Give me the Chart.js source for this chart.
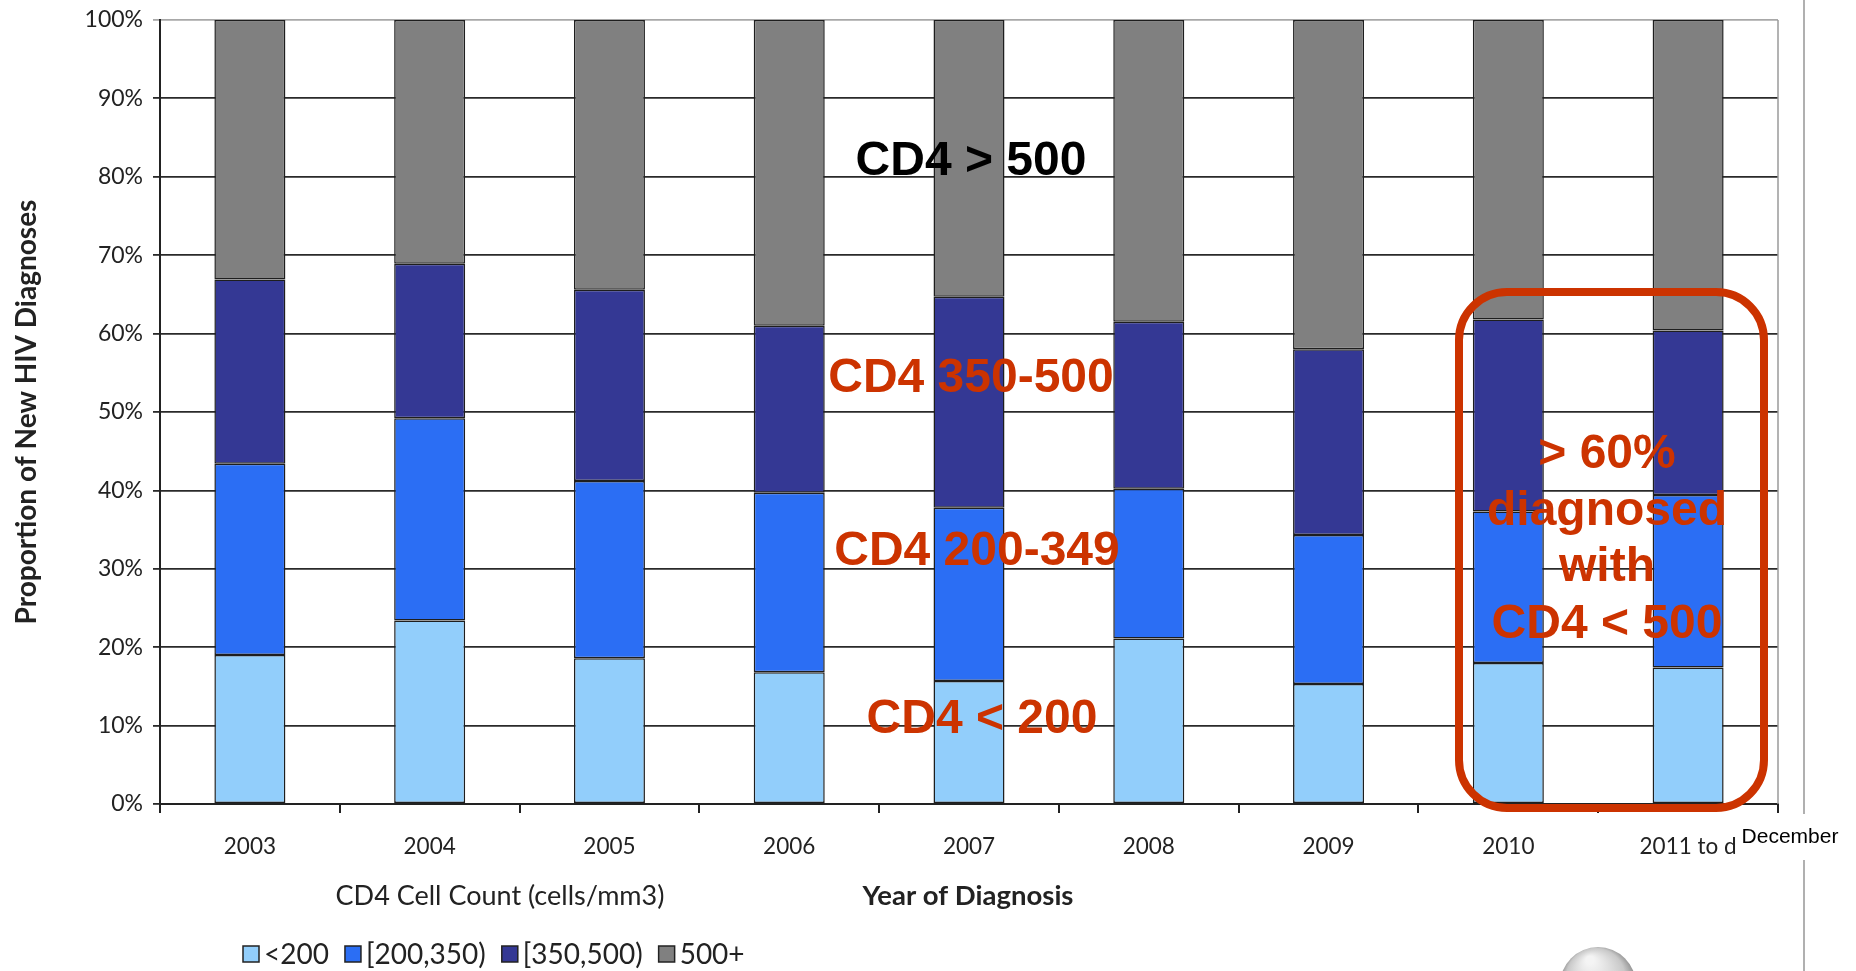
<!DOCTYPE html>
<html>
<head>
<meta charset="utf-8">
<script src="https://cdn.jsdelivr.net/npm/chart.js@4.4.1/dist/chart.umd.min.js"></script>
<style>
html, body { margin: 0; padding: 0; background: #fff; }
#wrap { position: relative; width: 1856px; height: 971px; }
</style>
</head>
<body>
<div id="wrap"><canvas id="cd4Chart"></canvas></div>
<script>
// data (percent of new diagnoses per year)
var years = ["2003", "2004", "2005", "2006", "2007", "2008", "2009", "2010", "2011 to d"];
var below200 = [19.0, 23.4, 18.6, 16.8, 15.7, 21.1, 15.3, 18.0, 17.4];
var cd4_200_350 = [24.4, 25.8, 22.6, 22.9, 22.1, 19.1, 19.0, 19.3, 22.0];
var cd4_350_500 = [23.5, 19.7, 24.4, 21.3, 26.9, 21.3, 23.7, 24.5, 21.0];
var above500 = [33.1, 31.1, 34.4, 39.0, 35.3, 38.5, 42.0, 38.2, 39.6];
var legendLabels = ["<200", "[200,350)", "[350,500)", "500+"];
var colors = ["#92CEFB", "#2B6EF4", "#343894", "#808080"];

var uiFont = "Lato, 'Open Sans', sans-serif";
var boldFont = "'Liberation Sans', Arial, sans-serif";

function makeSet(label, data, i) {
  return {
    label: label,
    data: data,
    backgroundColor: colors[i],
    borderColor: "#1e1e1e",
    borderWidth: 1.5,
    borderSkipped: false,
    barPercentage: 0.395,
    categoryPercentage: 1
  };
}

// annotations, titles, legend, etc
var extras = {
  id: "extras",
  afterDraw: function(chart) {
    var ctx = chart.ctx;
    var area = chart.chartArea;
    ctx.save();

    // thin grey right border of plot
    ctx.strokeStyle = "#9a9a9a";
    ctx.lineWidth = 1.5;
    ctx.beginPath();
    ctx.moveTo(area.right, area.top);
    ctx.lineTo(area.right, area.bottom);
    ctx.stroke();

    // slide separator line
    ctx.strokeStyle = "#b0b0b0";
    ctx.lineWidth = 2;
    ctx.beginPath();
    ctx.moveTo(1804, 0); ctx.lineTo(1804, 814);
    ctx.moveTo(1804, 860); ctx.lineTo(1804, 971);
    ctx.stroke();

    ctx.fillStyle = "#000";
    ctx.font = "21px " + boldFont;
    ctx.textAlign = "center";
    ctx.textBaseline = "middle";
    ctx.fillText("December", 1790, 837);

    // axis titles
    ctx.fillStyle = "#222";
    ctx.font = "27px " + uiFont;
    ctx.fillText("CD4 Cell Count (cells/mm3)", 500, 896);
    ctx.font = "bold 27.5px " + uiFont;
    ctx.fillText("Year of Diagnosis", 968, 896);

    ctx.save();
    ctx.translate(27, 412);
    ctx.rotate(-Math.PI / 2);
    ctx.font = "bold 28px " + uiFont;
    ctx.fillText("Proportion of New HIV Diagnoses", 0, 0);
    ctx.restore();

    // legend
    ctx.font = "28px " + uiFont;
    ctx.textAlign = "left";
    var lx = 243;
    for (var i = 0; i < legendLabels.length; i++) {
      ctx.fillStyle = colors[i];
      ctx.fillRect(lx, 946, 16, 16);
      ctx.strokeStyle = "#222";
      ctx.lineWidth = 1.5;
      ctx.strokeRect(lx, 946, 16, 16);
      ctx.fillStyle = "#222";
      ctx.fillText(legendLabels[i], lx + 21, 955);
      lx += 21 + ctx.measureText(legendLabels[i]).width + 16;
    }

    // big annotations
    ctx.textAlign = "center";
    ctx.font = "bold 48px " + boldFont;
    ctx.fillStyle = "#000";
    ctx.fillText("CD4 > 500", 971, 162);
    ctx.fillStyle = "#CC3300";
    ctx.fillText("CD4 350-500", 971, 379);
    ctx.fillText("CD4 200-349", 977, 552);
    ctx.fillText("CD4 < 200", 982, 720);

    ctx.fillText("> 60%", 1607, 455);
    ctx.fillText("diagnosed", 1607, 512);
    ctx.fillText("with", 1607, 568);
    ctx.fillText("CD4 < 500", 1607, 625);

    // red rounded box
    ctx.strokeStyle = "#CC3300";
    ctx.lineWidth = 8;
    ctx.beginPath();
    ctx.roundRect(1459, 292, 305, 516, 48);
    ctx.stroke();

    // grey logo peeking at the bottom
    var g = ctx.createRadialGradient(1590, 960, 4, 1598, 985, 40);
    g.addColorStop(0, "#f4f4f4");
    g.addColorStop(0.7, "#c8c8c8");
    g.addColorStop(1, "#8a8a8a");
    ctx.fillStyle = g;
    ctx.beginPath();
    ctx.arc(1598, 985, 38, 0, Math.PI * 2);
    ctx.fill();

    ctx.restore();
  }
};

var ctxB = document.getElementById("cd4Chart").getContext("2d");
var cd4Chart = new Chart(ctxB, {
  type: "bar",
  data: {
    labels: years,
    datasets: [
      makeSet(legendLabels[0], below200, 0),
      makeSet(legendLabels[1], cd4_200_350, 1),
      makeSet(legendLabels[2], cd4_350_500, 2),
      makeSet(legendLabels[3], above500, 3)
    ]
  },
  options: {
    responsive: true,
    maintainAspectRatio: false,
    animation: false,
    layout: { padding: { left: 80, right: 78, top: 20, bottom: 107 } },
    plugins: {
      legend: { display: false },
      tooltip: { enabled: false }
    },
    scales: {
      x: {
        stacked: true,
        afterFit: function(s) { s.height = 60; },
        grid: { display: true, drawOnChartArea: false, drawTicks: true, tickLength: 9, color: "#222", lineWidth: 2 },
        border: { display: true, color: "#222", width: 2 },
        ticks: { color: "#222", font: { family: uiFont, size: 22.5 }, padding: 20, maxRotation: 0, autoSkip: false }
      },
      y: {
        stacked: true,
        min: 0,
        max: 100,
        afterFit: function(s) { s.width = 80; s.paddingTop = 0; s.paddingBottom = 0; },
        grid: {
          color: function(c) { return c.tick && c.tick.value === 100 ? "#a8a8a8" : "#2a2a2a"; },
          lineWidth: 1.8,
          tickLength: 7
        },
        border: { display: true, color: "#222", width: 2 },
        ticks: {
          stepSize: 10,
          color: "#222",
          padding: 10,
          font: { family: uiFont, size: 23 },
          callback: function(v) { return v + "%"; }
        }
      }
    }
  },
  plugins: [extras]
});
</script>
</body>
</html>
